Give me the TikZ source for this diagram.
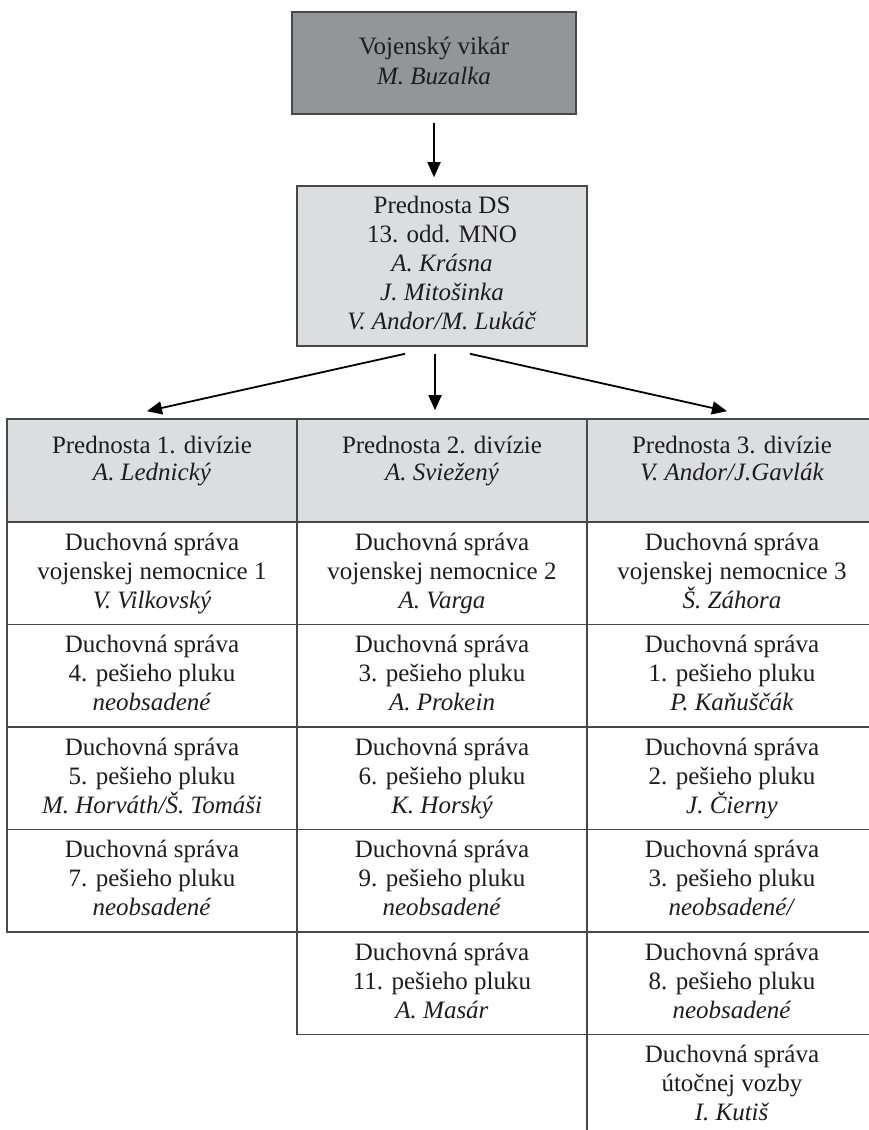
\documentclass[tikz,border=0pt]{standalone}
\usepackage{fontspec}
\setmainfont{Liberation Serif}
\usetikzlibrary{arrows.meta}
\definecolor{vikfill}{RGB}{148,149,153}
\definecolor{hdrfill}{RGB}{220,221,223}
\definecolor{rulecol}{RGB}{72,72,74}
\definecolor{ink}{RGB}{30,28,29}
\newcommand\mycell[3]{\strut #1\\#2\\\textit{#3}\strut}
\newcommand\myhead[2]{\strut #1\\\textit{#2}\strut}
\begin{document}
\begin{tikzpicture}[x=1pt,y=-1pt,
  txt/.style={align=center, font=\fontsize{25}{29}\selectfont, text=ink, inner sep=0pt},
  htxt/.style={align=center, font=\fontsize{25}{27}\selectfont, text=ink, inner sep=0pt},
  vikbox/.style={txt, font=\fontsize{25}{30}\selectfont, draw=rulecol, line width=1.6pt, fill=vikfill, minimum width=284pt, minimum height=102pt},
  dsbox/.style={txt, draw=rulecol, line width=1.6pt, fill=hdrfill, minimum width=290pt, minimum height=160pt},
  hcell/.style={draw=rulecol, line width=1.6pt, fill=hdrfill, minimum width=290pt, minimum height=103pt, inner sep=0pt},
  cell/.style={txt, draw=rulecol, line width=1.6pt, fill=white, minimum width=290pt, minimum height=102.5pt},
  arr/.style={-{Triangle[length=15pt,width=13pt]}, line width=1.8pt, draw=black}]
\useasboundingbox (0,0) rectangle (869,1130);
\fill[white] (0,0) rectangle (869,1130);

% top boxes
\node[vikbox] (vik) at (434,63) {\raisebox{-2pt}{\strut Vojenský vikár}\\\raisebox{-2pt}{\textit{M. Buzalka}\strut}};
\node[dsbox] (ds) at (442,266) {\strut Prednosta DS\\13. odd. MNO\\\textit{A. Krásna}\\\textit{J. Mitošinka}\\\textit{V. Andor/M. Lukáč}\strut};

% header cells
\node[hcell] (h1) at (152,470.5) {};
\node[hcell] (h2) at (442,470.5) {};
\node[hcell] (h3) at (732,470.5) {};
\node[htxt] (h1t) at (152,461.5) {\myhead{Prednosta 1. divízie}{A. Lednický}};
\node[htxt] (h2t) at (442,461.5) {\myhead{Prednosta 2. divízie}{A. Sviežený}};
\node[htxt] (h3t) at (732,461.5) {\myhead{Prednosta 3. divízie}{V. Andor/J.Gavlák}};

% column 1
\node[cell] (c11) at (152,573.25) {\mycell{Duchovná správa}{vojenskej nemocnice 1}{V. Vilkovský}};
\node[cell] (c12) at (152,675.75) {\mycell{Duchovná správa}{4. pešieho pluku}{neobsadené}};
\node[cell] (c13) at (152,778.25) {\mycell{Duchovná správa}{5. pešieho pluku}{M. Horváth/Š. Tomáši}};
\node[cell] (c14) at (152,880.75) {\mycell{Duchovná správa}{7. pešieho pluku}{neobsadené}};

% column 2
\node[cell] (c21) at (442,573.25) {\mycell{Duchovná správa}{vojenskej nemocnice 2}{A. Varga}};
\node[cell] (c22) at (442,675.75) {\mycell{Duchovná správa}{3. pešieho pluku}{A. Prokein}};
\node[cell] (c23) at (442,778.25) {\mycell{Duchovná správa}{6. pešieho pluku}{K. Horský}};
\node[cell] (c24) at (442,880.75) {\mycell{Duchovná správa}{9. pešieho pluku}{neobsadené}};
\node[cell] (c25) at (442,983.25) {\mycell{Duchovná správa}{11. pešieho pluku}{A. Masár}};

% column 3
\node[cell] (c31) at (732,573.25) {\mycell{Duchovná správa}{vojenskej nemocnice 3}{Š. Záhora}};
\node[cell] (c32) at (732,675.75) {\mycell{Duchovná správa}{1. pešieho pluku}{P. Kaňuščák}};
\node[cell] (c33) at (732,778.25) {\mycell{Duchovná správa}{2. pešieho pluku}{J. Čierny}};
\node[cell] (c34) at (732,880.75) {\mycell{Duchovná správa}{3. pešieho pluku}{neobsadené/}};
\node[cell] (c35) at (732,983.25) {\mycell{Duchovná správa}{8. pešieho pluku}{neobsadené}};
\node[cell] (c36) at (732,1085.75) {\mycell{Duchovná správa}{útočnej vozby}{I. Kutiš}};

% arrows
\draw[arr, shorten <=8pt, shorten >=8pt] (vik.south) -- (vik.south |- ds.north);
\coordinate (s1) at ([xshift=-37pt,yshift=-7pt]ds.south);
\coordinate (s2) at ([xshift=-7pt,yshift=-7pt]ds.south);
\coordinate (s3) at ([xshift=28pt,yshift=-7pt]ds.south);
\coordinate (e1) at ([xshift=-5pt,yshift=7pt]h1.north);
\coordinate (e2) at ([xshift=-7pt,yshift=8pt]h2.north);
\coordinate (e3) at ([xshift=-5pt,yshift=7pt]h3.north);
\draw[arr] (s1) -- (e1);
\draw[arr] (s2) -- (e2);
\draw[arr] (s3) -- (e3);
\end{tikzpicture}
\end{document}
